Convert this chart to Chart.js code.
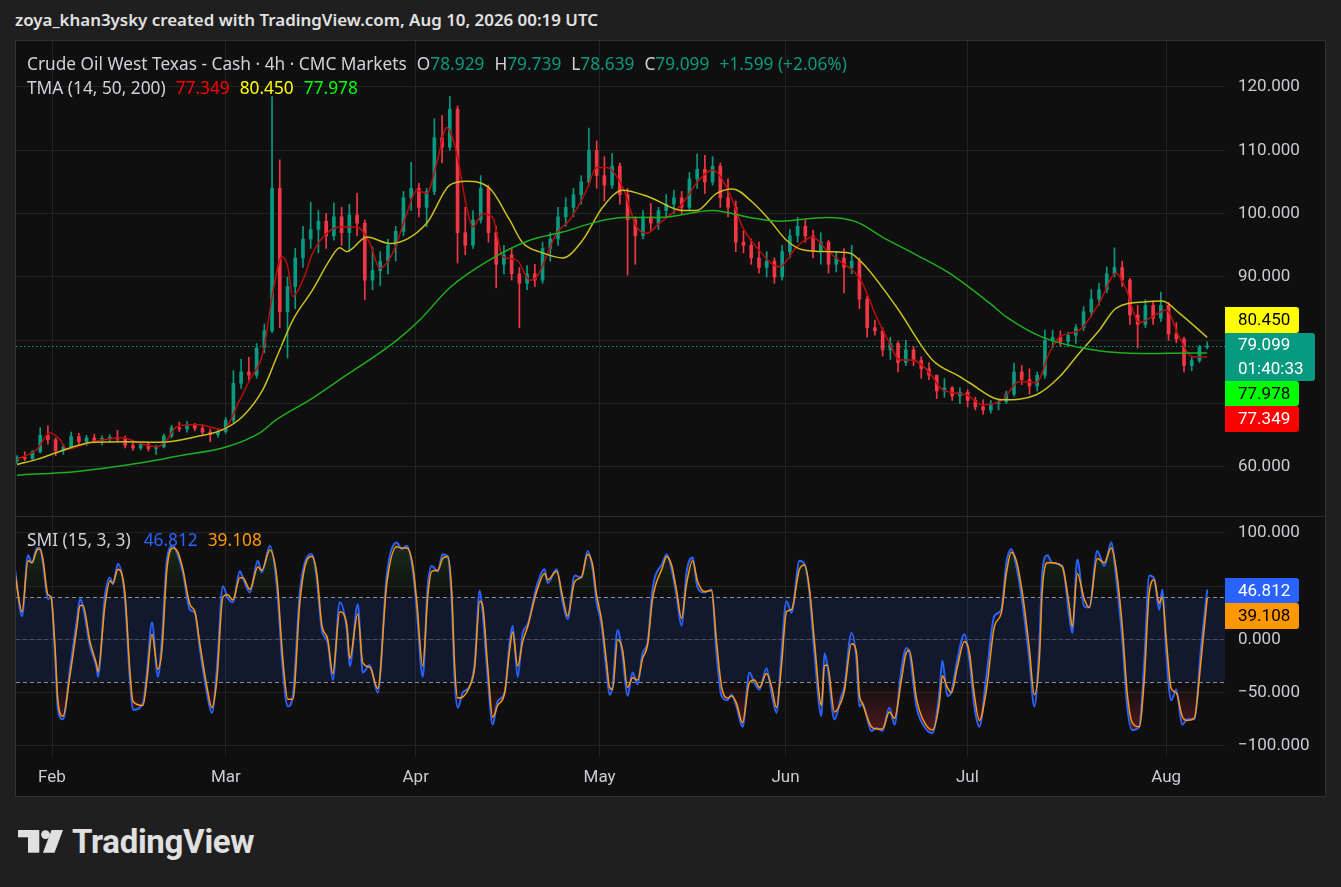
<!DOCTYPE html>
<html lang="en">
<head>
<meta charset="utf-8">
<title>Crude Oil West Texas - Cash · 4h · CMC Markets</title>
<script src="https://cdn.jsdelivr.net/npm/chart.js@4.4.1/dist/chart.umd.min.js"></script>
<style>
  html, body { margin: 0; padding: 0; }
  body { width: 1341px; height: 887px; background: #1f1f1f; position: relative; overflow: hidden;
         font-family: "Noto Sans", Roboto, sans-serif; }
  #title { position: absolute; left: 15px; top: 9px; line-height: 22px; font-size: 16.9px; font-weight: 600; color: #e2e2e2; white-space: nowrap; }
  #frame { position: absolute; left: 15px; top: 40px; width: 1311px; height: 757px; box-sizing: border-box;
           border: 1px solid #313131; background: #0f0f0f; }
  #priceCanvas { position: absolute; left: 0; top: 0; }
  #smiCanvas { position: absolute; left: 0; top: 476px; }
  #sep { position: absolute; left: 0; top: 475px; width: 1309px; height: 1px; background: #2a2a2a; }
  .leg { position: absolute; left: 11px; font-size: 17.3px; line-height: 22px; color: #cfd2d8; white-space: nowrap; }
  .g { margin-left: 10px; }
  .t { color: #089981; }
  #logo { position: absolute; left: 18px; top: 829px; }
  #brand { position: absolute; left: 72px; top: 825px; font-family: Roboto, "Noto Sans", sans-serif; font-size: 33px; line-height: 33px; font-weight: 700; color: #e0e0e0; letter-spacing: -0.3px; }
</style>
</head>
<body>
<div id="title">zoya_khan3ysky created with TradingView.com, Aug 10, 2026 00:19 UTC</div>
<div id="frame">
  <canvas id="priceCanvas" width="1309" height="475"></canvas>
  <div id="sep"></div>
  <canvas id="smiCanvas" width="1309" height="279"></canvas>
  <div class="leg" style="top:12px">Crude Oil West Texas - Cash · 4h · CMC Markets<span class="g">O</span><span class="t">78.929</span><span class="g">H</span><span class="t">79.739</span><span class="g">L</span><span class="t">78.639</span><span class="g">C</span><span class="t">79.099</span><span class="g t">+1.599 (+2.06%)</span></div>
  <div class="leg" style="top:36px">TMA (14, 50, 200)<span class="g" style="color:#ff0000">77.349</span><span class="g" style="color:#ffff00">80.450</span><span class="g" style="color:#00ff00">77.978</span></div>
  <div class="leg" style="top:488px">SMI (15, 3, 3)<span class="g" style="color:#2962ff;margin-left:13px">46.812</span><span class="g" style="color:#ff9800">39.108</span></div>
</div>
<svg id="logo" width="46" height="25" viewBox="0 0 46 25">
  <rect x="0" y="1" width="21" height="7.3" fill="#e0e0e0"/>
  <rect x="10" y="1" width="11.3" height="22.7" fill="#e0e0e0"/>
  <circle cx="27.5" cy="5.6" r="4.4" fill="#e0e0e0"/>
  <polygon points="33.5,1 45,1 36.5,23.7 25,23.7" fill="#e0e0e0"/>
</svg>
<div id="brand">TradingView</div>

<script>
// candles: one bar every ~1.25 days, x = bar index (shared by both panes)
const opens = [
  61.0, 61.5, 61.3, 62.4, 65.0, 64.3, 62.6, 63.2, 64.8, 64.0,
  64.6, 64.2, 64.5, 64.7, 64.4, 63.4, 63.0, 63.5, 62.9, 63.2,
  64.9, 66.2, 66.0, 66.6, 66.1, 65.5, 65.1, 65.6, 67.4, 73.2,
  75.0, 74.5, 78.8, 81.5, 104.0, 84.5, 88.5, 93.0, 96.0, 97.5,
  98.8, 96.5, 99.5, 97.0, 99.8, 98.5, 89.5, 91.0, 92.5, 95.0,
  97.2, 102.5, 104.0, 101.0, 103.5, 112.0, 110.5, 116.5, 97.0, 95.0,
  99.0, 104.0, 97.0, 92.0, 93.5, 90.5, 89.0, 90.5, 89.5, 94.5,
  96.0, 99.5, 101.0, 103.0, 105.0, 110.0, 106.0, 104.5, 107.5, 103.0,
  99.0, 96.5, 99.5, 98.5, 100.5, 101.5, 102.5, 101.0, 105.5, 107.0,
  105.0, 107.5, 102.5, 101.0, 95.5, 95.0, 93.0, 91.5, 92.5, 90.0,
  94.0, 96.5, 98.0, 96.5, 94.0, 95.5, 92.0, 93.0, 91.5, 92.5,
  86.5, 82.0, 81.5, 78.5, 79.5, 76.5, 78.5, 76.8, 75.5, 74.5,
  72.0, 72.5, 71.2, 71.8, 70.5, 69.5, 69.0, 70.0, 70.3, 71.5,
  75.0, 73.8, 72.8, 74.5, 80.0, 80.5, 79.8, 80.8, 82.0, 84.5,
  86.5, 88.0, 90.5, 91.5, 89.5, 84.0, 82.5, 85.5, 83.5, 85.5,
  81.0, 80.2, 76.0, 76.8, 78.929
];
const highs = [
  61.8, 62.4, 62.6, 66.2, 66.5, 64.6, 63.6, 65.5, 65.3, 65.0,
  65.2, 64.9, 65.1, 65.8, 64.9, 63.9, 63.8, 63.9, 63.4, 65.2,
  66.6, 67.1, 67.2, 66.9, 66.7, 66.0, 66.0, 67.8, 75.2, 77.0,
  77.3, 79.5, 82.6, 118.5, 108.5, 90.0, 94.5, 98.0, 101.8, 100.5,
  100.0, 101.7, 101.0, 101.5, 103.2, 99.0, 94.7, 94.0, 96.0, 98.0,
  103.5, 108.1, 104.8, 104.0, 115.0, 115.5, 118.5, 117.0, 101.0, 100.5,
  106.0, 104.5, 98.0, 95.0, 94.5, 91.5, 91.8, 92.0, 95.5, 97.0,
  101.0, 102.5, 104.0, 106.0, 113.5, 111.5, 109.0, 109.5, 108.0, 104.0,
  99.5, 100.5, 101.6, 101.0, 103.0, 103.7, 103.5, 106.5, 109.4, 109.2,
  109.0, 108.0, 105.5, 102.0, 97.3, 96.0, 95.5, 94.0, 93.0, 95.0,
  97.5, 99.4, 99.0, 97.4, 97.0, 95.8, 94.0, 94.5, 95.0, 93.0,
  87.0, 83.2, 82.0, 80.5, 79.8, 80.0, 79.0, 77.4, 76.5, 74.5,
  74.0, 72.7, 72.5, 72.2, 71.0, 70.6, 70.5, 70.6, 72.0, 76.4,
  76.0, 75.5, 75.0, 81.6, 81.6, 81.5, 81.3, 82.5, 85.3, 88.0,
  89.0, 91.6, 94.6, 92.5, 89.8, 85.5, 86.4, 86.2, 87.6, 86.0,
  82.8, 80.5, 77.5, 79.2, 79.739
];
const lows = [
  60.6, 61.0, 61.1, 62.2, 63.6, 61.8, 62.0, 63.0, 63.6, 63.4,
  63.8, 63.5, 63.9, 64.0, 63.0, 62.6, 62.7, 62.5, 62.0, 63.0,
  64.6, 65.6, 65.5, 65.7, 65.1, 64.0, 64.7, 65.3, 67.0, 72.4,
  73.8, 74.0, 78.0, 81.2, 82.0, 77.2, 85.0, 91.5, 94.5, 93.8,
  94.5, 95.8, 95.0, 94.0, 96.5, 86.4, 88.0, 88.6, 90.5, 92.5,
  96.5, 100.5, 99.5, 97.9, 103.0, 108.0, 110.0, 92.2, 93.5, 94.5,
  98.5, 95.5, 88.3, 90.5, 89.5, 82.0, 88.0, 88.5, 89.0, 92.5,
  95.0, 98.0, 99.5, 101.5, 104.5, 104.0, 102.0, 104.0, 101.5, 90.3,
  92.0, 96.0, 97.4, 97.5, 99.5, 100.0, 100.0, 100.5, 104.0, 103.2,
  104.5, 101.0, 99.5, 94.0, 93.8, 92.0, 90.6, 90.0, 89.0, 89.5,
  93.0, 95.5, 95.5, 93.0, 92.0, 90.6, 90.8, 87.5, 90.5, 85.0,
  80.5, 80.8, 77.5, 77.0, 75.0, 76.0, 76.0, 74.0, 73.8, 70.8,
  71.0, 70.5, 70.0, 69.5, 69.0, 68.3, 68.5, 69.0, 70.0, 71.2,
  73.0, 71.5, 72.0, 74.0, 78.8, 79.0, 79.0, 79.5, 81.5, 83.7,
  85.5, 87.5, 90.0, 88.5, 82.5, 78.8, 82.0, 82.5, 83.0, 80.0,
  79.6, 75.0, 75.2, 76.5, 78.639
];
const closes = [
  61.5, 61.3, 62.4, 65.0, 64.3, 62.6, 63.2, 64.8, 64.0, 64.6,
  64.2, 64.5, 64.7, 64.4, 63.4, 63.0, 63.5, 62.9, 63.2, 64.9,
  66.2, 66.0, 66.6, 66.1, 65.5, 65.1, 65.6, 67.4, 73.2, 75.0,
  74.5, 78.8, 81.5, 104.0, 84.5, 88.5, 93.0, 96.0, 97.5, 98.8,
  96.5, 99.5, 97.0, 99.8, 98.5, 89.5, 91.0, 92.5, 95.0, 97.2,
  102.5, 104.0, 101.0, 103.5, 112.0, 110.5, 116.5, 97.0, 95.0, 99.0,
  104.0, 97.0, 92.0, 93.5, 90.5, 89.0, 90.5, 89.5, 94.5, 96.0,
  99.5, 101.0, 103.0, 105.0, 110.0, 106.0, 104.5, 107.5, 103.0, 99.0,
  96.5, 99.5, 98.5, 100.5, 101.5, 102.5, 101.0, 105.5, 107.0, 105.0,
  107.5, 102.5, 101.0, 95.5, 95.0, 93.0, 91.5, 92.5, 90.0, 94.0,
  96.5, 98.0, 96.5, 94.0, 95.5, 92.0, 93.0, 91.5, 92.5, 86.5,
  82.0, 81.5, 78.5, 79.5, 76.5, 78.5, 76.8, 75.5, 74.5, 72.0,
  72.5, 71.2, 71.8, 70.5, 69.5, 69.0, 70.0, 70.3, 71.5, 75.0,
  73.8, 72.8, 74.5, 80.0, 80.5, 79.8, 80.8, 82.0, 84.5, 86.5,
  88.0, 90.5, 91.5, 89.5, 84.0, 82.5, 85.5, 83.5, 85.5, 81.0,
  80.2, 76.0, 76.8, 78.9, 79.099
];

// TMA (14, 50, 200), x in bar index
const tmaFastX = [0, 2.59, 4.27, 5.56, 6.47, 9.83, 13.71, 15.52, 18.10, 19.40,
  20.69, 23.27, 25.34, 26.64, 28.83, 30.13, 31.81, 33.10, 34.26, 35.04,
  35.69, 36.98, 38.27, 40.08, 41.76, 43.96, 45.64, 46.94, 48.62, 50.43,
  51.72, 53.01, 54.31, 55.60, 56.89, 58.18, 58.96, 60.25, 61.55, 62.84,
  64.65, 66.33, 67.24, 69.82, 71.50, 73.70, 74.99, 76.29, 78.36, 80.17,
  81.46, 83.14, 86.11, 87.92, 89.99, 92.19, 93.87, 95.68, 98.66, 100.85,
  102.92, 104.73, 106.80, 108.09, 109.39, 111.20, 112.88, 114.17, 115.85, 118.05,
  119.73, 122.84, 124.90, 127.49, 129.69, 131.89, 133.57, 134.86, 137.45, 140.03,
  142.23, 143.52, 145.20, 146.88, 148.70, 150.38, 152.06, 154];
const tmaFastY = [61.2, 62.8, 65.4, 64.3, 62.8, 64.0, 64.6, 63.9, 63.2, 64.3,
  66.4, 66.7, 66.2, 65.9, 70.6, 73.8, 78.0, 87.5, 93.2, 91.6,
  86.9, 89.5, 93.8, 96.9, 97.9, 97.9, 95.4, 91.4, 93.8, 100.0,
  103.7, 103.2, 108.0, 113.6, 109.5, 101.0, 97.9, 100.0, 99.4, 93.2,
  92.7, 89.5, 90.0, 96.9, 99.0, 103.7, 107.3, 107.3, 104.2, 97.9,
  96.9, 98.5, 101.6, 104.8, 106.9, 103.2, 97.9, 94.7, 91.6, 94.7,
  96.3, 94.3, 92.2, 91.1, 89.0, 83.7, 79.6, 76.9, 76.9, 74.9,
  72.2, 71.4, 69.8, 70.6, 73.5, 73.3, 78.0, 80.5, 81.6, 85.9,
  90.6, 88.0, 82.8, 83.7, 84.8, 80.5, 77.4, 77.349];
const tmaMidX = [0, 2.59, 5.17, 9.83, 14.22, 18.49, 23.27, 26.64, 29.22, 31.81,
  33.62, 35.69, 38.27, 40.47, 41.76, 42.67, 45.26, 48.23, 53.01, 55.99,
  58.18, 61.16, 63.74, 65.43, 68.01, 70.60, 73.18, 75.77, 78.36, 81.85,
  86.11, 87.92, 90.51, 92.58, 95.16, 97.36, 99.56, 101.63, 105.12, 107.71,
  109.39, 113.78, 118.44, 121.93, 123.22, 127.49, 131.89, 134.86, 137.45, 140.03,
  142.23, 146.11, 148.18, 150.38, 154];
const tmaMidY = [60.4, 61.2, 62.3, 63.9, 64.0, 63.9, 64.8, 65.9, 68.0, 72.2,
  77.4, 83.2, 88.0, 92.7, 94.6, 94.0, 96.3, 95.3, 98.5, 104.5,
  105.1, 104.0, 99.0, 95.4, 93.8, 93.0, 95.8, 101.0, 103.7, 102.6,
  100.5, 100.5, 103.2, 103.9, 101.8, 99.0, 95.8, 94.3, 94.0, 93.8,
  92.2, 85.3, 76.9, 74.3, 73.3, 70.6, 71.4, 74.2, 78.0, 81.6,
  85.1, 86.1, 86.2, 84.3, 80.45];
const tmaSlowX = [0, 7.76, 16.29, 20.69, 27.15, 31.42, 33.62, 37.88, 41.76, 49.13,
  52.11, 55.99, 61.16, 66.33, 70.60, 74.99, 78.36, 83.14, 89.99, 94.78,
  98.66, 104.73, 108.61, 111.97, 116.37, 120.64, 125.81, 128.01, 132.66, 139.13,
  145.59, 152.06, 154];
const tmaSlowY = [58.7, 59.3, 60.7, 61.7, 63.2, 65.4, 67.5, 70.6, 73.8, 80.0,
  83.2, 88.3, 92.7, 95.8, 97.1, 98.7, 99.4, 99.4, 100.5, 99.4,
  98.8, 99.4, 98.7, 96.3, 93.5, 90.6, 85.9, 83.7, 80.5, 78.5,
  77.9, 78.0, 77.978];

// SMI (15, 3, 3): blue SMI line and orange signal line
const smiX = [
  -0.26, 0.65, 1.42, 1.94, 2.59, 2.97, 3.36, 4.01, 4.40, 4.91,
  5.30, 5.95, 6.85, 7.76, 8.15, 8.53, 9.44, 10.34, 10.47, 11.38,
  12.02, 12.41, 13.06, 13.96, 14.61, 15.00, 16.29, 16.81, 17.46, 18.23,
  18.75, 19.40, 20.17, 20.82, 21.46, 22.37, 23.02, 23.66, 24.57, 25.21,
  25.86, 26.64, 27.28, 27.93, 28.83, 29.22, 30.13, 31.16, 31.68, 32.71,
  33.62, 34.39, 35.04, 35.69, 36.59, 37.24, 38.14, 38.79, 39.44, 40.21,
  40.86, 41.76, 42.67, 43.06, 44.09, 44.74, 45.64, 46.68, 47.84, 49.13,
  49.78, 50.43, 51.20, 51.72, 52.50, 53.14, 53.66, 54.44, 55.08, 55.73,
  56.25, 56.63, 57.02, 57.67, 58.57, 59.22, 59.87, 60.25, 60.90, 61.55,
  62.19, 63.10, 63.74, 64.13, 64.78, 65.43, 66.07, 67.24, 68.27, 68.66,
  69.82, 70.60, 71.24, 72.15, 73.05, 73.83, 74.48, 74.99, 75.64, 76.29,
  76.67, 77.06, 77.71, 78.36, 79.00, 79.65, 80.30, 80.94, 81.59, 82.23,
  83.53, 84.05, 84.69, 85.34, 85.98, 86.63, 87.41, 88.05, 88.96, 89.86,
  90.51, 91.16, 91.93, 92.45, 93.10, 93.87, 94.78, 95.42, 96.07, 96.98,
  97.62, 98.27, 98.91, 99.56, 100.21, 101.24, 101.89, 102.53, 103.18, 104.09,
  104.47, 104.86, 105.77, 106.67, 107.06, 107.97, 108.61, 109.00, 109.39, 110.55,
  111.20, 111.97, 112.88, 113.53, 114.43, 115.08, 115.46, 116.37, 117.15, 118.44,
  119.34, 119.73, 120.38, 120.90, 121.67, 122.58, 123.22, 123.87, 124.52, 125.42,
  126.46, 127.36, 128.01, 128.65, 129.30, 130.08, 130.98, 131.63, 132.27, 132.66,
  133.31, 133.95, 135.25, 136.15, 136.54, 137.19, 138.09, 138.74, 139.77, 140.68,
  141.58, 142.23, 143.01, 143.65, 144.30, 145.20, 145.85, 146.50, 147.14, 147.79,
  148.18, 148.70, 149.34, 149.99, 150.76, 151.41, 152.32, 153.22, 154.00
];
const smiY = [
  66, 22, 79, 72, 86, 86, 72, 38, 40, -13,
  -66, -75, -28, 19, 38, 31, -6, -28, -35, 41,
  58, 52, 71, 38, -38, -66, -60, -31, 16, -35,
  0, 75, 88, 79, 63, 28, 25, -9, -50, -69,
  -28, 50, 39, 35, 64, 58, 44, 74, 63, 88,
  50, -28, -63, -53, 44, 72, 80, 57, 9, -3,
  -38, 35, 9, -25, 33, -31, -24, -50, 60, 91,
  85, 88, 66, 28, -35, 50, 69, 64, 80, 78,
  35, -38, -64, -50, -44, -22, 46, 25, -35, -80,
  -58, -50, -3, 13, -35, 6, 14, 50, 66, 53,
  66, 35, 19, 60, 58, 83, 66, 35, 13, -31,
  -52, -44, 9, -16, -53, -31, -42, -13, -3, 47,
  72, 80, 66, 41, 13, 63, 77, 49, 44, 47,
  -13, -53, -57, -52, -63, -82, -31, -41, -47, -27,
  -50, -69, -13, 36, 25, 74, 71, 44, -13, -72,
  -13, -25, -75, -53, -44, 6, -19, -63, -60, -86,
  -83, -86, -64, -80, -28, -8, -12, -63, -79, -88,
  -50, -20, -53, -49, -19, 5, -19, -63, -82, -35,
  22, 28, 72, 85, 69, 35, -19, -63, -6, 63,
  79, 72, 69, 22, 6, 75, 31, 30, 83, 69,
  91, 57, 0, -63, -85, -82, -22, 60, 57, 28,
  47, -13, -57, -47, -80, -75, -75, -6, 46.812
];
const signalY = [
  62, 26, 74, 72, 84, 85, 75, 42, 40, -6,
  -58, -72, -34, 12, 32, 32, -2, -25, -30, 32,
  55, 53, 66, 44, -30, -58, -62, -38, 5, -28,
  -10, 66, 86, 82, 66, 33, 26, -4, -44, -64,
  -38, 40, 42, 37, 58, 58, 47, 68, 65, 84,
  58, -18, -56, -56, 34, 68, 78, 62, 14, 0,
  -32, 26, 14, -18, 24, -22, -26, -46, 52, 87,
  86, 86, 70, 36, -25, 40, 64, 65, 76, 78,
  45, -25, -55, -54, -44, -26, 36, 32, -25, -73,
  -62, -50, -10, 7, -25, -2, 12, 45, 62, 56,
  64, 40, 22, 54, 59, 80, 70, 42, 18, -22,
  -45, -47, 0, -10, -45, -36, -38, -18, -5, 38,
  68, 78, 70, 46, 20, 52, 74, 55, 45, 46,
  -2, -44, -55, -53, -60, -78, -40, -38, -45, -32,
  -44, -64, -25, 26, 28, 66, 70, 48, -2, -62,
  -25, -24, -68, -58, -48, -4, -12, -52, -60, -82,
  -84, -84, -68, -74, -38, -12, -10, -55, -74, -85,
  -60, -34, -45, -50, -26, -2, -12, -52, -76, -48,
  12, 25, 62, 82, 74, 44, -8, -52, -20, 46,
  72, 72, 68, 32, 12, 62, 38, 30, 76, 72,
  86, 66, 12, -50, -78, -82, -38, 44, 56, 34,
  40, 0, -46, -50, -72, -76, -74, -18, 39.108
];

const monthPos = [4.53, 27.02, 51.59, 75.38, 99.43, 122.96, 148.69];
const monthNames = ['Feb', 'Mar', 'Apr', 'May', 'Jun', 'Jul', 'Aug'];
const priceTicks = [60, 70, 80, 90, 100, 110, 120];
const smiTicks = [-100, -50, 0, 50, 100];
const smiLevels = [40, 0, -40];
const countdown = '01:40:33';

const UP = '#089981', DOWN = '#f23645';
const TEXT = '#c9ccd2', GRID = '#232323';
const FONT = { family: 'Roboto, "Noto Sans", sans-serif', size: 17 };
const X_MIN = -0.13, X_MAX = 156.3;

const pts = (xs, ys) => xs.map((x, k) => ({ x, y: ys[k] }));
const candleColor = closes.map((c, i) => (c >= opens[i] ? UP : DOWN));
const fmt = v => (v < 0 ? '\u2212' + Math.abs(v).toFixed(3) : v.toFixed(3));

function tag(ctx, x, y, w, h, bg, fg, texts) {
  ctx.save();
  ctx.fillStyle = bg;
  ctx.beginPath();
  ctx.roundRect(x, y, w, h, [0, 3, 3, 0]);
  ctx.fill();
  ctx.fillStyle = fg;
  ctx.font = '17px Roboto, "Noto Sans", sans-serif';
  ctx.textAlign = 'left';
  ctx.textBaseline = 'middle';
  const step = h / texts.length;
  texts.forEach((t, k) => ctx.fillText(t, x + 13, y + step * (k + 0.5) + 1));
  ctx.restore();
}

function fixedAxis(width) {
  return s => { s.width = width; s.paddingTop = 0; s.paddingBottom = 0; };
}

// ---------- price pane ----------
const priceDecor = {
  id: 'priceDecor',
  afterDatasetsDraw(chart) {
    const { ctx, chartArea: a, scales: { y } } = chart;
    const yc = Math.round(y.getPixelForValue(closes[closes.length - 1])) + 0.5;
    ctx.save();
    ctx.strokeStyle = UP;
    ctx.lineWidth = 1;
    ctx.setLineDash([1.5, 2.5]);
    ctx.beginPath();
    ctx.moveTo(a.left, yc);
    ctx.lineTo(a.right, yc);
    ctx.stroke();
    ctx.restore();
  },
  afterDraw(chart) {
    const { ctx, chartArea: a, scales: { y } } = chart;
    const last = closes[closes.length - 1];
    const top = Math.round(y.getPixelForValue(last) - 13);
    tag(ctx, a.right, top - 26, 74, 26, '#ffff00', '#000000', [tmaMidY[tmaMidY.length - 1].toFixed(3)]);
    tag(ctx, a.right, top, 90, 48, UP, '#ffffff', [last.toFixed(3), countdown]);
    tag(ctx, a.right, top + 48, 74, 25, '#00ff00', '#000000', [tmaSlowY[tmaSlowY.length - 1].toFixed(3)]);
    tag(ctx, a.right, top + 73, 74, 26, '#ff0000', '#ffffff', [tmaFastY[tmaFastY.length - 1].toFixed(3)]);
  }
};

new Chart(document.getElementById('priceCanvas'), {
  type: 'bar',
  data: {
    datasets: [
      { type: 'line', data: pts(tmaSlowX, tmaSlowY), borderColor: '#1fae1f', borderWidth: 1.5,
        pointRadius: 0, cubicInterpolationMode: 'monotone', order: 0 },
      { type: 'line', data: pts(tmaMidX, tmaMidY), borderColor: '#c9c11e', borderWidth: 1.5,
        pointRadius: 0, cubicInterpolationMode: 'monotone', order: 0 },
      { type: 'line', data: pts(tmaFastX, tmaFastY), borderColor: '#b80d0d', borderWidth: 1.5,
        pointRadius: 0, cubicInterpolationMode: 'monotone', order: 0 },
      { data: closes.map((c, i) => ({ x: i, y: [opens[i], c] })), backgroundColor: candleColor,
        barThickness: 3, maxBarThickness: 3, minBarLength: 1, grouped: false, order: 1 },
      { data: closes.map((c, i) => ({ x: i, y: [lows[i], highs[i]] })), backgroundColor: candleColor,
        barThickness: 1, maxBarThickness: 1, grouped: false, order: 2 }
    ]
  },
  options: {
    responsive: false,
    animation: false,
    events: [],
    layout: { padding: 0 },
    plugins: { legend: { display: false }, tooltip: { enabled: false } },
    scales: {
      x: {
        type: 'linear', min: X_MIN, max: X_MAX, offset: false,
        grid: { color: GRID, drawTicks: false, offset: false },
        border: { display: false },
        ticks: { display: false },
        afterBuildTicks: s => { s.ticks = monthPos.map(v => ({ value: v })); },
        afterFit: s => { s.height = 0; s.paddingLeft = 0; s.paddingRight = 0; }
      },
      y: {
        position: 'right', min: 52.26, max: 127.26,
        grid: { color: GRID, drawTicks: false },
        border: { display: false },
        ticks: { color: TEXT, font: FONT, padding: 13, callback: v => fmt(v) },
        afterBuildTicks: s => { s.ticks = priceTicks.map(v => ({ value: v })); },
        afterFit: fixedAxis(100)
      }
    }
  },
  plugins: [priceDecor]
});

// ---------- SMI pane ----------
function fade(c, from, to, rgb, alpha) {
  const chart = c.chart;
  const s = chart.scales.y;
  if (!chart.chartArea || !s) return 'rgba(0,0,0,0)';
  const g = chart.ctx.createLinearGradient(0, s.getPixelForValue(from), 0, s.getPixelForValue(to));
  g.addColorStop(0, 'rgba(' + rgb + ',' + alpha + ')');
  g.addColorStop(1, 'rgba(' + rgb + ',0)');
  return g;
}

const smiDecor = {
  id: 'smiDecor',
  beforeDatasetsDraw(chart) {
    const { ctx, chartArea: a, scales: { y } } = chart;
    const hi = y.getPixelForValue(smiLevels[0]);
    const lo = y.getPixelForValue(smiLevels[2]);
    ctx.save();
    ctx.fillStyle = 'rgba(41,98,255,0.12)';
    ctx.fillRect(a.left, hi, a.right - a.left, lo - hi);
    ctx.lineWidth = 1;
    ctx.setLineDash([4, 3]);
    smiLevels.forEach(v => {
      const py = Math.round(y.getPixelForValue(v)) + 0.5;
      ctx.strokeStyle = v === 0 ? '#4d4f57' : '#8b8d94';
      ctx.beginPath();
      ctx.moveTo(a.left, py);
      ctx.lineTo(a.right, py);
      ctx.stroke();
    });
    ctx.restore();
  },
  afterDraw(chart) {
    const { ctx, chartArea: a, scales: { y } } = chart;
    const yb = y.getPixelForValue(smiY[smiY.length - 1]);
    tag(ctx, a.right, Math.round(yb - 12), 74, 25, '#2962ff', '#ffffff', [smiY[smiY.length - 1].toFixed(3)]);
    tag(ctx, a.right, Math.round(yb + 13), 74, 26, '#ff9800', '#000000', [signalY[signalY.length - 1].toFixed(3)]);
  }
};

const smiPts = pts(smiX, smiY);
new Chart(document.getElementById('smiCanvas'), {
  type: 'line',
  data: {
    datasets: [
      { data: smiPts, borderWidth: 0, pointRadius: 0, cubicInterpolationMode: 'monotone',
        backgroundColor: c => fade(c, 100, 40, '76,175,80', 0.22),
        fill: { target: { value: 40 }, below: 'rgba(0,0,0,0)' }, order: 3 },
      { data: smiPts, borderWidth: 0, pointRadius: 0, cubicInterpolationMode: 'monotone',
        backgroundColor: c => fade(c, -100, -40, '242,54,69', 0.36),
        fill: { target: { value: -40 }, above: 'rgba(0,0,0,0)' }, order: 3 },
      { data: smiPts, borderColor: '#2962ff', borderWidth: 2, pointRadius: 0,
        cubicInterpolationMode: 'monotone', fill: false, order: 2 },
      { data: pts(smiX, signalY), borderColor: '#ff9800', borderWidth: 1.5, pointRadius: 0,
        cubicInterpolationMode: 'monotone', fill: false, order: 1 }
    ]
  },
  options: {
    responsive: false,
    animation: false,
    events: [],
    layout: { padding: 0 },
    plugins: { legend: { display: false }, tooltip: { enabled: false } },
    scales: {
      x: {
        type: 'linear', min: X_MIN, max: X_MAX,
        grid: { color: GRID, drawTicks: false },
        border: { display: false },
        ticks: { color: TEXT, font: FONT, padding: 12, autoSkip: false, maxRotation: 0,
                 callback: (v, i) => monthNames[i] },
        afterBuildTicks: s => { s.ticks = monthPos.map(v => ({ value: v })); },
        afterFit: s => { s.height = 40; s.paddingLeft = 0; s.paddingRight = 0; }
      },
      y: {
        position: 'right', min: -109.4, max: 115.0,
        grid: { color: GRID, drawTicks: false },
        border: { display: false },
        ticks: { color: TEXT, font: FONT, padding: 13, callback: v => fmt(v) },
        afterBuildTicks: s => { s.ticks = smiTicks.map(v => ({ value: v })); },
        afterFit: fixedAxis(100)
      }
    }
  },
  plugins: [smiDecor]
});
</script>
</body>
</html>
